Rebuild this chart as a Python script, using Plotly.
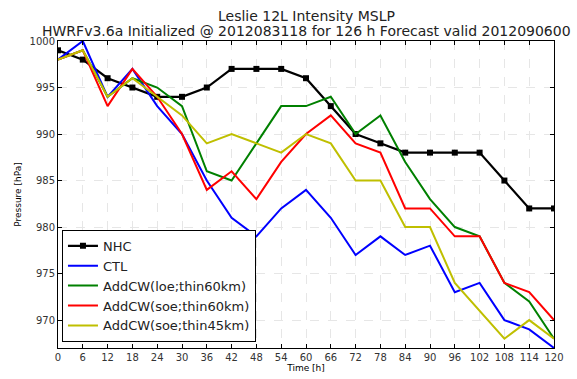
import plotly.graph_objects as go

hours = [0, 6, 12, 18, 24, 30, 36, 42, 48, 54, 60, 66, 72, 78, 84, 90, 96, 102, 108, 114, 120]
nhc = [999, 998, 996, 995, 994, 994, 995, 997, 997, 997, 996, 993, 990, 989, 988, 988, 988, 988, 985, 982, 982]
ctl = [998, 1000, 994, 997, 993, 990, 985, 981, 979, 982, 984, 981, 977, 979, 977, 978, 973, 974, 970, 969, 967]
loe60 = [998, 999, 994, 996, 995, 993, 986, 985, 989, 993, 993, 994, 990, 992, 987, 983, 980, 979, 974, 972, 968]
soe60 = [998, 999, 993, 997, 994, 990, 984, 986, 983, 987, 990, 992, 989, 988, 982, 982, 979, 979, 974, 973, 970]
soe45 = [998, 999, 994, 996, 994, 992, 989, 990, 989, 988, 990, 989, 985, 985, 980, 980, 974, 971, 968, 970, 968]

yticks = [970, 975, 980, 985, 990, 995, 1000]
title_lines = ["Leslie 12L Intensity MSLP",
               "HWRFv3.6a Initialized @ 2012083118 for 126 h Forecast valid 2012090600"]

fig = go.Figure()
fig.add_trace(go.Scatter(x=hours, y=nhc, name="NHC", mode="lines+markers",
                         line=dict(color="black", width=2.2),
                         marker=dict(symbol="square", size=6, color="black")))
fig.add_trace(go.Scatter(x=hours, y=ctl, name="CTL", mode="lines",
                         line=dict(color="#0000ff", width=2)))
fig.add_trace(go.Scatter(x=hours, y=loe60, name="AddCW(loe;thin60km)", mode="lines",
                         line=dict(color="#008000", width=2)))
fig.add_trace(go.Scatter(x=hours, y=soe60, name="AddCW(soe;thin60km)", mode="lines",
                         line=dict(color="#ff0000", width=2)))
fig.add_trace(go.Scatter(x=hours, y=soe45, name="AddCW(soe;thin45km)", mode="lines",
                         line=dict(color="#bfbf00", width=2)))

axis_common = dict(showline=True, linecolor="black", linewidth=1, mirror="allticks",
                   ticks="inside", ticklen=4, tickcolor="black", automargin=False,
                   showgrid=True, gridcolor="#e6e6e6", griddash="dash", gridwidth=1,
                   zeroline=False, tickfont=dict(size=10, color="#333"))

fig.update_layout(
    width=577, height=379,
    paper_bgcolor="white", plot_bgcolor="white",
    font=dict(family="DejaVu Sans", color="black"),
    margin=dict(l=58, r=23, t=41, b=31),
    xaxis=dict(range=[0, 120], tickvals=hours, title=dict(text="Time [h]", font=dict(size=9), standoff=2),
               **axis_common),
    yaxis=dict(range=[967, 1000], tickvals=yticks, title=dict(text="Pressure [hPa]", font=dict(size=9), standoff=6),
               **axis_common),
    legend=dict(x=0.008, y=0.02, xanchor="left", yanchor="bottom",
                bgcolor="white", bordercolor="black", borderwidth=1,
                font=dict(size=13, color="#222"), tracegroupgap=0, itemwidth=30),
    showlegend=True,
    annotations=[
        dict(text=title_lines[0], xref="paper", yref="paper", x=0.5, y=1.0, yshift=25.5,
             xanchor="center", yanchor="middle", showarrow=False, font=dict(size=14, color="#222")),
        dict(text=title_lines[1], xref="paper", yref="paper", x=0.5, y=1.0, yshift=10.5,
             xanchor="center", yanchor="middle", showarrow=False, font=dict(size=14, color="#222")),
    ],
)

fig.write_html("out.html", config={"displayModeBar": False},
               post_script="document.body.style.margin='0';")
